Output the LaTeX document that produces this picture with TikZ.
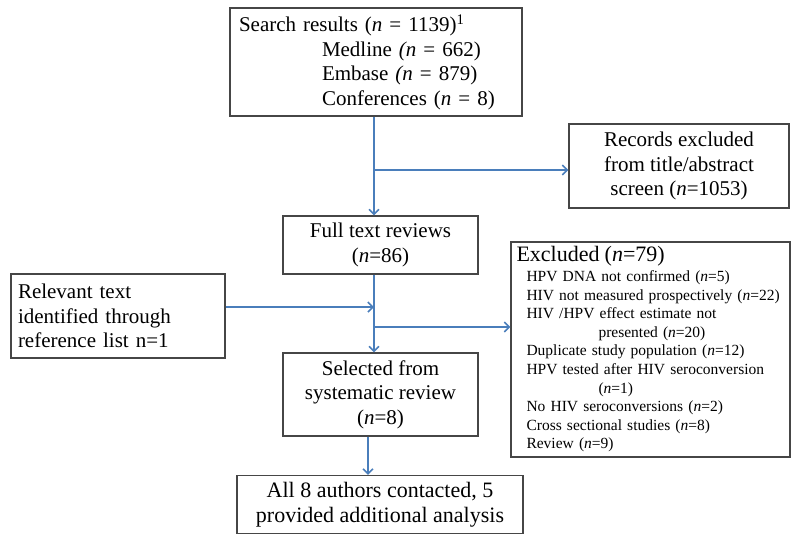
\documentclass[tikz,border=0pt]{standalone}
\usepackage{fontspec}
\setmainfont{Liberation Serif}
\usepackage{tikz}
\usetikzlibrary{arrows.meta}
\definecolor{flowblue}{RGB}{74,126,187}
\definecolor{boxgray}{RGB}{70,70,70}

\begin{document}
\begin{tikzpicture}[x=1pt,y=-1pt,
 box/.style={draw=boxgray,line width=1.1pt,inner sep=0pt,align=center,
  font=\fontsize{21}{24.5}\selectfont},
 flow/.style={draw=flowblue,line width=2.4pt,-{Straight Barb[length=5pt,width=10pt,line width=1.6pt]}}]
\useasboundingbox (0,0) rectangle (800,539);
% boxes
\node[box,minimum width=292,minimum height=108,text width=274,align=left] (search) at (376,62)
 {Search results (\textit{n} = 1139)\textsuperscript{1}\\
  \hspace*{83pt}Medline \textit{(n} = 662)\\
  \hspace*{83pt}Embase \textit{(n} = 879)\\
  \hspace*{83pt}Conferences (\textit{n} = 8)};
\node[box,minimum width=220,minimum height=84] (records) at (679,166)
 {Records excluded\\ from title/abstract\\ screen (\textit{n}=1053)};
\node[box,minimum width=195,minimum height=58] (fulltext) at (380.5,245)
 {Full text reviews\\ (\textit{n}=86)};
\node[box,minimum width=214,minimum height=84,text width=200,align=left] (relevant) at (118,316)
 {Relevant text\\ identified through\\ reference list n=1};
\node[box,minimum width=195,minimum height=83] (selected) at (380.5,394.5)
 {Selected from\\ systematic review\\ (\textit{n}=8)};
\node[box,minimum width=279,minimum height=215,text width=268,align=left,
  font=\fontsize{15.5}{18.6}\selectfont] (excluded) at (650.5,349.5)
 {{\fontsize{22}{24}\selectfont Excluded (\textit{n}=79)}\\[1pt]
  \hspace*{10pt}HPV DNA not confirmed (\textit{n}=5)\\
  \hspace*{10pt}HIV not measured prospectively (\textit{n}=22)\\
  \hspace*{10pt}HIV /HPV effect estimate not\\
  \hspace*{82pt}presented (\textit{n}=20)\\
  \hspace*{10pt}Duplicate study population (\textit{n}=12)\\
  \hspace*{10pt}HPV tested after HIV seroconversion\\
  \hspace*{82pt}(\textit{n}=1)\\
  \hspace*{10pt}No HIV seroconversions (\textit{n}=2)\\
  \hspace*{10pt}Cross sectional studies (\textit{n}=8)\\
  \hspace*{10pt}Review (\textit{n}=9)};
\node[box,minimum width=286,minimum height=58,font=\fontsize{22}{25}\selectfont] (authors) at (380,504.5)
 {All 8 authors contacted, 5\\ provided additional analysis};
% connectors
\coordinate (spine) at (374,0);
\coordinate (split1) at (374,170);
\coordinate (split2) at (374,327);
\coordinate (low) at (368,0);
\draw[flow] (search.south -| spine) -- (fulltext.north -| spine);
\draw[flow] (split1) -- (split1 -| records.west);
\draw[flow] (fulltext.south -| spine) -- (selected.north -| spine);
\draw[flow] ([yshift=9pt]relevant.east) -- ([yshift=9pt]relevant.east -| spine);
\draw[flow] (split2) -- (split2 -| excluded.west);
\draw[flow] (selected.south -| low) -- (authors.north -| low);
\end{tikzpicture}
\end{document}
